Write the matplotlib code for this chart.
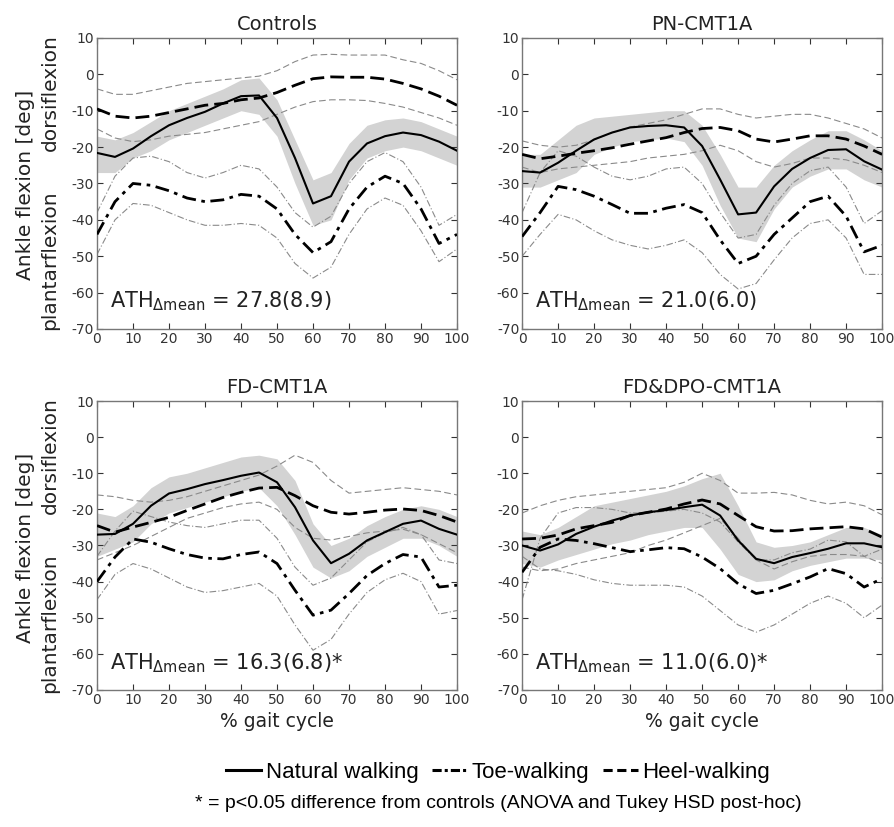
import matplotlib
matplotlib.use("Agg")
import matplotlib.pyplot as plt
from matplotlib import font_manager
from matplotlib.lines import Line2D

# hyphen minus like the original tick labels
matplotlib.rcParams["axes.unicode_minus"] = False

# gait cycle grid (%)
x = [0, 5, 10, 15, 20, 25, 30, 35, 40, 45, 50, 55, 60, 65, 70, 75, 80, 85, 90, 95, 100]

titles = ["Controls", "PN-CMT1A", "FD-CMT1A", "FD&DPO-CMT1A"]
ath_labels = ["27.8(8.9)", "21.0(6.0)", "16.3(6.8)*", "11.0(6.0)*"]

# natural walking: mean and band edges
nat_mean = [
    [-21.6, -22.7, -20.4, -17, -14, -12, -10.3, -8, -6, -5.8, -12, -23, -35.5, -33.5, -24, -19, -17, -16, -16.7, -18.5, -21],
    [-26.6, -27, -24.3, -21, -17.9, -16, -14.6, -14.2, -14, -14.6, -19.7, -28.9, -38.5, -38, -30.8, -26, -23, -20.8, -20.6, -23.9, -26.2],
    [-27, -26.8, -24, -19, -15.6, -14.4, -13, -11.9, -10.7, -9.8, -12.5, -19.4, -28.6, -34.9, -32.3, -28.6, -26.3, -24, -23.1, -25.4, -27],
    [-30, -31.4, -29.7, -26.8, -24.8, -23.1, -21.7, -20.8, -20.2, -19.4, -18.7, -21.7, -28.6, -33.7, -34.9, -33.2, -32.1, -30.9, -29.4, -29.4, -30.5],
]
nat_hi = [
    [-17, -18, -16, -13, -10, -8, -6, -4, -1.5, -1, -7, -18, -29, -27, -19, -14, -12.5, -12, -13, -15, -17],
    [-22, -22, -18, -14, -12, -11.5, -11, -10.5, -10, -10, -14, -22, -31, -31, -25, -21, -18, -15.5, -15.5, -18, -21],
    [-21, -22, -19, -14, -11, -10, -8.5, -7, -5.5, -5, -6, -12, -24, -30, -28, -24.5, -22, -20, -19, -20, -22],
    [-26, -27, -25, -22, -19, -18, -17, -16, -15, -13.5, -11.5, -10, -19, -29, -30.5, -30, -29, -27, -25, -25, -27],
]
nat_lo = [
    [-27, -27, -23, -21, -18, -16, -14, -12, -10, -11, -17, -30, -41.5, -40, -29, -23, -21, -20, -21, -23, -25],
    [-31, -31, -29, -27, -22, -20, -18.5, -18, -17.5, -18.5, -25, -36, -45, -46, -37, -31, -28, -26, -26, -29, -31],
    [-33, -31, -29, -24, -21, -19.5, -18, -16.5, -15, -14, -19, -27, -36, -39, -37, -33, -30.5, -28, -28, -30, -33],
    [-35, -36, -34, -32.5, -31, -29.5, -28.5, -27, -26, -25, -25, -31, -38, -40, -39.5, -37, -35.5, -34.5, -33.5, -33.5, -34],
]

# toe-walking: mean and +/- SD lines
toe_mean = [
    [-44, -35, -30, -30.5, -32, -34, -35, -34.5, -33, -33.5, -37, -44, -49, -46, -37, -31, -28, -30, -37, -46.5, -44],
    [-44.6, -38, -30.8, -31.7, -33.5, -35.8, -38.2, -38.2, -36.8, -35.8, -38, -45.5, -52, -50, -44, -39.5, -35, -33.5, -39, -48.8, -47],
    [-40, -33.2, -28.2, -29.1, -30.9, -32.5, -33.5, -33.7, -32.5, -31.8, -35, -42.4, -49.3, -47.9, -43.3, -38.3, -35, -32.5, -33.2, -41.5, -41],
    [-37.4, -30.5, -28.2, -28.6, -29.5, -30.6, -31.7, -31.2, -30.6, -30.9, -33.2, -36.4, -40.6, -43.3, -42.4, -40.6, -38.7, -36.4, -37.8, -41.5, -39.2],
]
toe_up = [
    [-38, -28, -23, -22.5, -24, -27, -28.5, -27, -25, -26, -31, -38, -42, -39, -30, -24, -21.5, -24, -31, -41.5, -38.5],
    [-38, -27, -21, -22.5, -25.5, -28, -29, -28, -26, -25.5, -30, -38, -45, -44, -36, -30, -26.5, -25.5, -31, -41, -37.5],
    [-33, -26, -20.5, -22, -23.5, -24.5, -25, -24, -23, -23, -28, -36, -41, -39, -34, -29, -26.5, -25, -27, -34, -35],
    [-45, -28, -21, -19.5, -19.5, -20, -21, -21, -20.5, -20, -21, -23.5, -29, -34, -34, -32, -31, -28.5, -29, -33, -31],
]
toe_lo = [
    [-49.5, -40, -35.5, -36, -38, -40, -41.5, -41.5, -41, -41.5, -45, -52, -56, -53, -44, -37, -34, -36, -43, -51.5, -48],
    [-50, -44, -38.5, -40, -43, -45.5, -47, -48, -47, -45.5, -49, -55, -59, -57.5, -51, -45, -41, -40, -45, -55, -55],
    [-45, -38, -35, -36.5, -39, -41.5, -43, -42.5, -41.5, -40.5, -44, -52, -59, -56, -49, -43, -39.5, -37.7, -40, -49, -48],
    [-33, -36.5, -37, -38, -39.5, -40.5, -41, -41, -41, -41.5, -44, -48, -52, -54, -52, -49, -46, -44, -46, -50, -46.5],
]

# heel-walking: mean and +/- SD lines
heel_mean = [
    [-9.5, -11.5, -12, -11.5, -10.5, -9.5, -8.5, -8, -7, -6.5, -5, -3, -1.2, -0.7, -0.8, -0.8, -1.3, -2.5, -4, -6, -8.5],
    [-22, -23.2, -22.5, -21.7, -21, -20.2, -19.2, -18.3, -17.4, -16, -14.9, -14.6, -15.5, -17.8, -18.6, -17.8, -16.9, -16.9, -17.8, -19.7, -22],
    [-24.5, -26.3, -24.9, -23.6, -22.2, -20.3, -18.5, -16.7, -15.3, -14.1, -13.9, -16.2, -19, -20.8, -21.3, -20.8, -20.2, -19.9, -20.3, -21.7, -23.5],
    [-28.2, -28, -27.1, -25.4, -24.5, -23.6, -21.7, -20.8, -19.9, -18.5, -17.4, -18.5, -21.7, -24.8, -26, -25.9, -25.4, -25.1, -24.8, -25.4, -27.7],
]
heel_up = [
    [-4, -5.5, -5.5, -4.5, -3.5, -2.5, -2, -1.5, -1, -0.5, 1, 3.5, 5.3, 5.5, 5.3, 5.3, 5.3, 4, 3, 1, -1.5],
    [-18.3, -19.5, -20, -19.5, -18, -16, -14.5, -13.5, -12.5, -11, -9.5, -9.5, -11, -12, -11.5, -11, -11, -12, -13.5, -15, -17.5],
    [-16, -16.5, -17.5, -18, -17.5, -16.5, -15, -13.5, -12, -10.5, -8, -5, -7, -12, -15.5, -15, -14.5, -14, -14.5, -15, -16],
    [-21, -19, -17.5, -16.5, -16, -15.5, -15, -14.5, -14, -12.5, -10, -12, -15.5, -15.5, -15.3, -16, -17.5, -18.5, -18, -19, -21.5],
]
heel_lo = [
    [-15, -17.5, -18.5, -18, -17, -16.5, -16, -15, -14, -13, -11, -9, -7.5, -7, -7, -7.2, -8, -9, -10.5, -12, -14],
    [-25.5, -27, -26, -25.5, -25, -24.5, -24, -23, -22.5, -22, -21, -19.5, -21, -24, -25.5, -24.5, -23, -23, -23.5, -25, -27],
    [-34, -32, -30, -27.5, -25, -22.5, -21, -19.5, -18.5, -18, -20, -25, -28, -28.5, -27.5, -26.5, -26, -25.5, -27, -29.5, -32],
    [-36, -37, -36.5, -35, -34, -33, -32, -30, -28.5, -26.5, -24.5, -22.5, -28, -34, -36.5, -34.5, -33, -32.5, -32.5, -33, -35],
]

names = {f.name for f in font_manager.fontManager.ttflist}
narrow = "Liberation Sans Narrow" if "Liberation Sans Narrow" in names else "Liberation Sans"

fig = plt.figure(figsize=(8.94, 8.27), dpi=100)
positions = [
    [0.1085, 0.6022, 0.4027, 0.3519],
    [0.584, 0.6022, 0.4027, 0.3519],
    [0.1085, 0.1657, 0.4027, 0.3494],
    [0.584, 0.1657, 0.4027, 0.3494],
]

band_col = "#d3d3d3"
sd_col = "#8a8a8a"
dash_heel = (5, 2.2)
dash_toe = (5, 2, 1.3, 2)

for i in range(4):
    ax = fig.add_axes(positions[i])
    ax.fill_between(x, nat_lo[i], nat_hi[i], color=band_col, lw=0, zorder=1)
    ax.plot(x, heel_up[i], color=sd_col, lw=0.8, dashes=(6, 3), zorder=2)
    ax.plot(x, heel_lo[i], color=sd_col, lw=0.8, dashes=(6, 3), zorder=2)
    ax.plot(x, toe_up[i], color=sd_col, lw=0.8, dashes=(6, 2, 1, 2), zorder=2)
    ax.plot(x, toe_lo[i], color=sd_col, lw=0.8, dashes=(6, 2, 1, 2), zorder=2)
    ax.plot(x, heel_mean[i], color="black", lw=2, dashes=dash_heel, zorder=3)
    ax.plot(x, toe_mean[i], color="black", lw=2, dashes=dash_toe, zorder=3)
    ax.plot(x, nat_mean[i], color="black", lw=1.5, zorder=4)

    ax.set_xlim(0, 100)
    ax.set_ylim(-70, 10)
    ax.set_xticks(range(0, 101, 10))
    ax.set_yticks(range(-70, 11, 10))
    ax.tick_params(direction="in", length=4, width=0.8, top=True, right=True,
                   labelsize=10, colors="#333333", pad=2)
    for s in ax.spines.values():
        s.set_color("#777777")
        s.set_linewidth(1)
    ax.set_title(titles[i], fontsize=14, color="#222222", pad=6)
    ax.text(3.5, -62.5, "ATH$_{\\mathregular{\u0394mean}}$ = " + ath_labels[i],
            fontsize=15, color="#222222", va="center", ha="left")
    if i >= 2:
        ax.set_xlabel("% gait cycle", fontsize=13.5, color="#222222", labelpad=4)

# y labels (two lines, rotated)
for top_px in [38, 401]:
    fig.text(0.028, 1 - (top_px + 147) / 827, "Ankle flexion [deg]", rotation=90,
             fontsize=14.5, color="#222222", ha="center", va="center")
    fig.text(0.056, 1 - (top_px + 55) / 827, "dorsiflexion", rotation=90,
             fontsize=14.5, color="#222222", ha="center", va="center")
    fig.text(0.056, 1 - (top_px + 222) / 827, "plantarflexion", rotation=90,
             fontsize=14.5, color="#222222", ha="center", va="center")

handles = [
    Line2D([], [], color="black", lw=2.2),
    Line2D([], [], color="black", lw=2.2, dashes=(3, 1, 1, 1)),
    Line2D([], [], color="black", lw=2.2, dashes=(3, 1.5)),
]
fig.legend(handles, ["Natural walking", "Toe-walking", "Heel-walking"],
           loc="center", bbox_to_anchor=(0.557, 0.066), ncol=3, frameon=False,
           handlelength=1.6, handletextpad=0.2, columnspacing=0.6,
           prop={"family": narrow, "size": 16})
fig.text(0.557, 0.029, "* = p<0.05 difference from controls (ANOVA and Tukey HSD post-hoc)",
         family=narrow, fontsize=14, ha="center", va="center")

fig.savefig("out.png", dpi=100)
